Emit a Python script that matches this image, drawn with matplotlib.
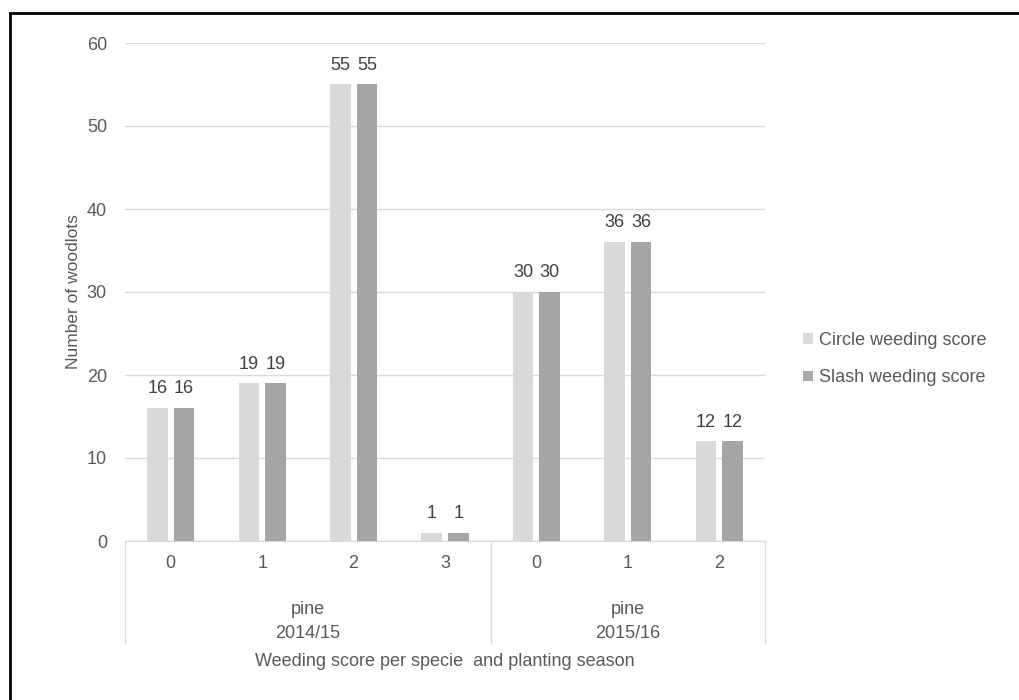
import matplotlib
matplotlib.use("Agg")
import matplotlib.pyplot as plt
import matplotlib.transforms as mtransforms
from matplotlib.patches import Rectangle
import numpy as np

plt.rcParams["font.family"] = ["Liberation Sans", "DejaVu Sans"]

scores = ["0", "1", "2", "3", "0", "1", "2"]
species = ["pine", "pine"]
seasons = ["2014/15", "2015/16"]
season_sizes = [4, 3]
circle = [16, 19, 55, 1, 30, 36, 12]
slash = [16, 19, 55, 1, 30, 36, 12]

light = "#D9D9D9"
dark = "#A5A5A5"
txt = "#595959"
fs = 13

fig = plt.figure(figsize=(10.2, 7), dpi=100)
ax = fig.add_axes([125 / 1020, 159 / 700, 640 / 1020, 498 / 700])

x = np.arange(len(scores))
w = 0.225
b1 = ax.bar(x - 0.145, circle, w, color=light, label="Circle weeding score", zorder=3)
b2 = ax.bar(x + 0.145, slash, w, color=dark, label="Slash weeding score", zorder=3)
for bars in (b1, b2):
    for r in bars:
        ax.text(r.get_x() + r.get_width() / 2, r.get_height() + 1.3,
                f"{int(r.get_height())}", ha="center", va="bottom",
                fontsize=fs, color="#404040")

ax.set_xlim(-0.5, len(scores) - 0.5)
ax.set_ylim(0, 60)
ax.set_yticks(range(0, 61, 10))
ax.yaxis.grid(True, color=light, linewidth=1, zorder=0)
for s in ["top", "right", "left"]:
    ax.spines[s].set_visible(False)
ax.spines["bottom"].set_color(light)
ax.tick_params(axis="y", length=0, labelsize=fs, labelcolor=txt, pad=13)
ax.tick_params(axis="x", length=0, labelbottom=False)
ax.set_ylabel("Number of woodlots", fontsize=12.5, color=txt, labelpad=4)

# multi-level category axis
trans = mtransforms.blended_transform_factory(ax.transData, fig.transFigure)
for i, s in enumerate(scores):
    ax.text(i, 1 - 564 / 700, s, transform=trans, ha="center", va="center",
            fontsize=fs, color=txt)
start = 0
bounds = [-0.5]
for sp, se, n in zip(species, seasons, season_sizes):
    mid = start + (n - 1) / 2
    ax.text(mid, 1 - 610 / 700, sp, transform=trans, ha="center", va="center",
            fontsize=fs, color=txt)
    ax.text(mid, 1 - 634 / 700, se, transform=trans, ha="center", va="center",
            fontsize=fs, color=txt)
    start += n
    bounds.append(start - 0.5)
for bx in bounds:
    ax.plot([bx, bx], [1 - 541 / 700, 1 - 643 / 700], transform=trans,
            color=light, linewidth=1, clip_on=False)
ax.text((len(scores) - 1) / 2, 1 - 662 / 700,
        "Weeding score per specie  and planting season", transform=trans,
        ha="center", va="center", fontsize=fs, color=txt)

leg = fig.legend(handles=[b1, b2], loc="center left",
                 bbox_to_anchor=(787 / 1020, 1 - 359 / 700), frameon=False,
                 fontsize=fs, handlelength=0.55, handleheight=0.55,
                 handletextpad=0.3, labelspacing=1.15)
for t in leg.get_texts():
    t.set_color(txt)

fig.patches.append(Rectangle((10 / 1020, -0.1), 1.2, 1.1 - 13 / 700,
                             transform=fig.transFigure, fill=False,
                             edgecolor="black", linewidth=2))

fig.savefig("out.png", dpi=100)
